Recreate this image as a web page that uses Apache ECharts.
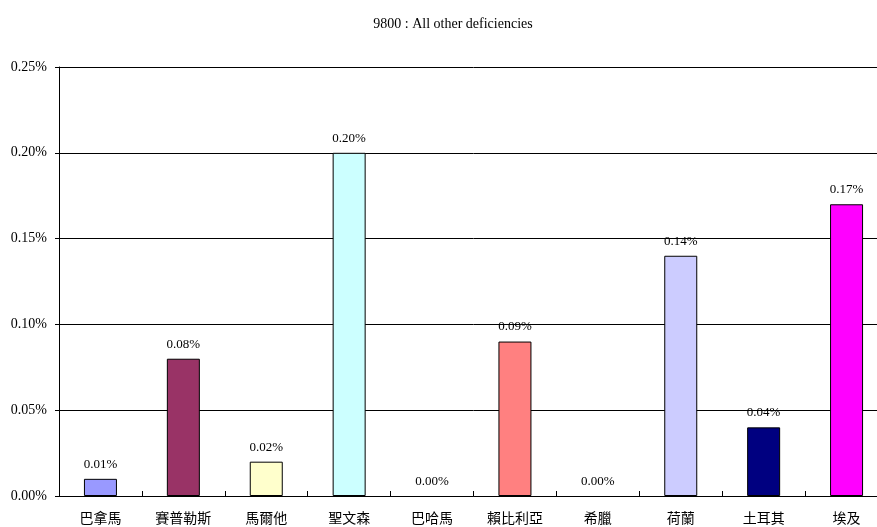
<!DOCTYPE html>
<html><head><meta charset="utf-8">
<script src="https://cdn.jsdelivr.net/npm/echarts@6/dist/echarts.min.js"></script>
<style>html,body{margin:0;padding:0;background:#fff;overflow:hidden;width:877px;height:527px}#c{width:888px;height:527px}</style>
</head><body><div id="c"></div>
<script>
const titleText = '9800 : All other deficiencies';
const categories = ['巴拿馬','賽普勒斯','馬爾他','聖文森','巴哈馬','賴比利亞','希臘','荷蘭','土耳其','埃及'];
const values = [0.01, 0.08, 0.02, 0.20, 0.00, 0.09, 0.00, 0.14, 0.04, 0.17];
const colors = ['#9999FF','#993366','#FFFFCC','#CCFFFF','#660066','#FF8080','#0066CC','#CCCCFF','#000080','#FF00FF'];
const yTicks = [0, 0.05, 0.10, 0.15, 0.20, 0.25];

const serif = '"Liberation Serif","Times New Roman","Noto Sans CJK TC",serif';
const chart = echarts.init(document.getElementById('c'));
chart.setOption({
  animation: false,
  backgroundColor: '#fff',
  title: {
    text: titleText, left: 448, top: 12, textAlign: 'center',
    textStyle: {fontFamily: serif, fontSize: 14, fontWeight: 'normal', color: '#000'}
  },
  grid: {left: 59, right: 0, top: 67, bottom: 31, containLabel: false},
  xAxis: {
    type: 'category', data: categories,
    axisLine: {lineStyle: {color: '#000', width: 1}},
    axisTick: {show: true, inside: true, length: 5, lineStyle: {color: '#000'}},
    axisLabel: {margin: 15, fontSize: 14, color: '#000', fontFamily: '"Noto Sans CJK TC",serif'}
  },
  yAxis: {
    type: 'value', min: 0, max: yTicks[yTicks.length-1], interval: 0.05,
    axisLine: {show: true, lineStyle: {color: '#000', width: 1}},
    axisTick: {show: true, length: 4, lineStyle: {color: '#000'}},
    splitLine: {show: true, lineStyle: {color: '#000', width: 1}},
    axisLabel: {margin: 12, fontSize: 14, color: '#000', fontFamily: serif,
      formatter: v => v.toFixed(2) + '%'}
  },
  series: [{
    type: 'bar', barWidth: 33,
    data: values.map((v, i) => ({value: v, itemStyle: {color: colors[i], borderWidth: v === 0 ? 0 : 1}})),
    itemStyle: {borderColor: '#000', borderWidth: 1},
    label: {show: true, position: 'top', distance: 8, fontSize: 13, color: '#000', fontFamily: serif,
      formatter: p => p.value.toFixed(2) + '%'}
  }]
});
</script></body></html>
